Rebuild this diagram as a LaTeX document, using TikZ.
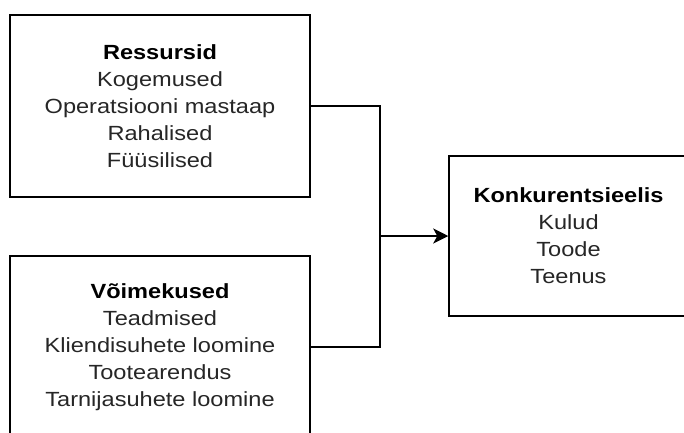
\documentclass[tikz,border=0pt]{standalone}
\usepackage{fontspec}
\setmainfont{Liberation Sans}[FakeStretch=1.15]
\usetikzlibrary{arrows.meta, positioning}
\tikzset{
  blok/.style={
    rectangle, draw=black, fill=white, line width=1.5pt,
    align=center, inner sep=0pt,
    font=\fontsize{20.5}{27}\selectfont, text=black!85,
  },
  arrow/.style={
    -{Stealth[length=15pt, width=15pt, inset=4pt]}, line width=1.5pt, draw=black,
  },
  line/.style={
    line width=1.5pt, draw=black,
  }
}
\begin{document}
\begin{tikzpicture}[x=1pt, y=-1pt]

  \useasboundingbox (0,0) rectangle (684,432);
  \clip (0,0) rectangle (684,432);

  \node[blok, minimum width=300pt, minimum height=182pt] (res) at (160,106)
    {\textbf{\color{black}Ressursid}\\Kogemused\\Operatsiooni mastaap\\Rahalised\\Füüsilised};
  \node[blok, minimum width=300pt, minimum height=182pt] (voi) at (160,347)
    {\textbf{\color{black}Võimekused}\\Teadmised\\Kliendisuhete loomine\\Tootearendus\\Tarnijasuhete loomine};
  \node[blok, minimum width=239pt, minimum height=160pt] (konk) at (568.5,236)
    {\textbf{\color{black}Konkurentsieelis}\\Kulud\\Toode\\Teenus};

  \coordinate (mid) at (380,236);

  \draw[line] (res.east) -| (mid);
  \draw[line] (voi.east) -| (mid);
  \draw[arrow] (mid) -- (konk.west);

\end{tikzpicture}
\end{document}
